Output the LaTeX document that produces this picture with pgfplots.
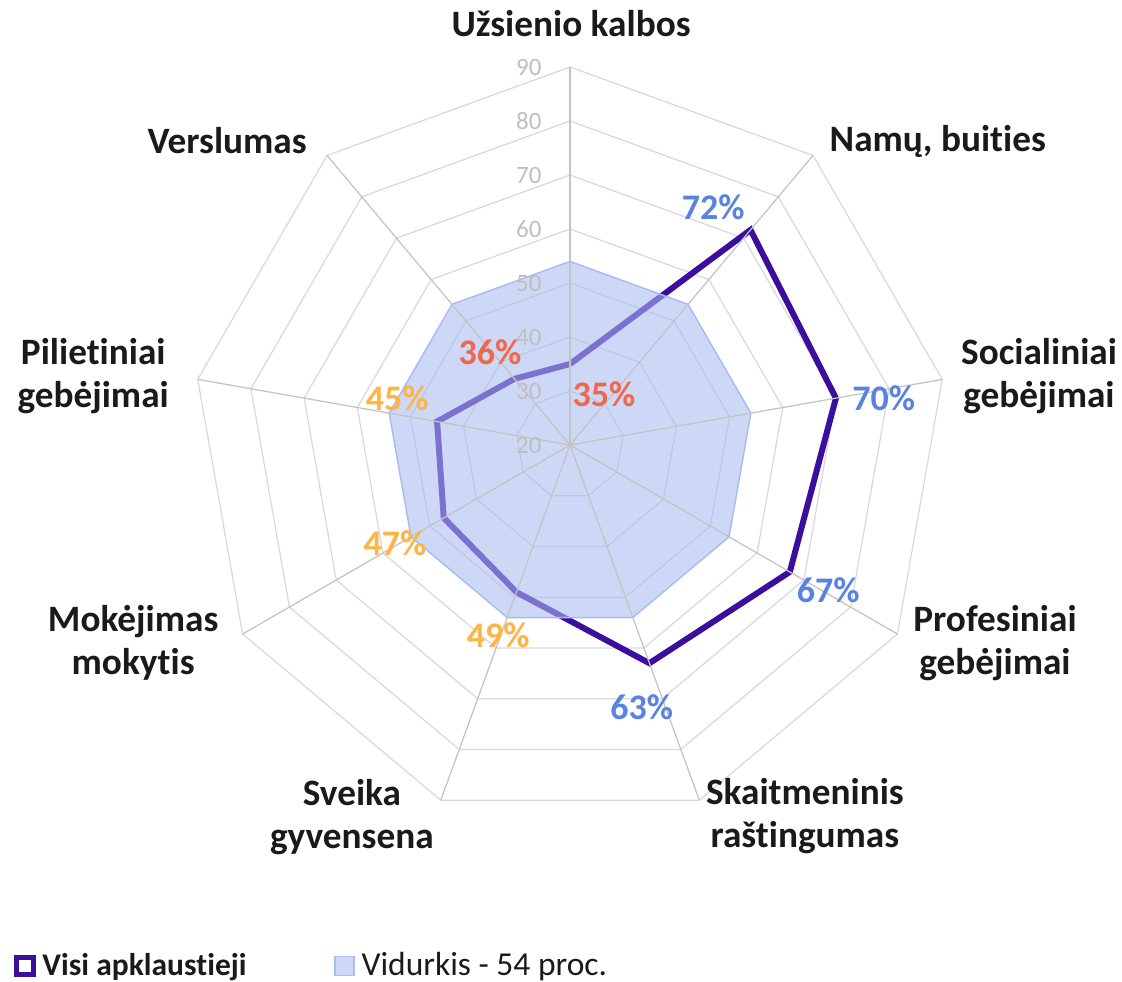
\documentclass[border=0pt]{standalone}
\usepackage{pgfplots}
\pgfplotsset{compat=1.18}
\usepackage{pgfplotstable}
\usepackage{fontspec}
\setmainfont{Carlito}[Ligatures={NoCommon}]
\definecolor{linepurple}{RGB}{59,14,158}
\definecolor{areablue}{RGB}{169,188,241}
\definecolor{lblblue}{RGB}{88,131,224}
\definecolor{lblred}{RGB}{240,103,74}
\definecolor{lblorange}{RGB}{255,180,70}
\definecolor{ringgray}{RGB}{217,217,217}
\definecolor{spokegray}{RGB}{195,195,195}
\definecolor{tickgray}{RGB}{191,191,191}
\definecolor{txt}{RGB}{26,26,26}

\pgfplotstableread{
a v
0 35
40 72
80 70
120 67
160 63
200 49
240 47
280 45
320 36
360 35
}\visi
\pgfplotstableread{
a v
0 54
40 54
80 54
120 54
160 54
200 54
240 54
280 54
320 54
360 54
}\avg

\begin{document}
\begin{tikzpicture}
\begin{axis}[
  x=2.16pt, y=2.16pt,
  xmin=-105.56, xmax=102.22, ymin=-99.26, ymax=82.41,
  hide axis, clip=false,
  legend columns=2,
  legend style={at={(axis cs:-103.06,-96.5)}, anchor=west, draw=none, fill=none,
    inner sep=0pt, outer sep=0pt, nodes={inner sep=0pt},
    text=txt,
    /tikz/every odd column/.append style={column sep=2.8pt},
    /tikz/every even column/.append style={column sep=35pt}},
]
% rings
\pgfplotsinvokeforeach{30,40,...,90}{
  \addplot[ringgray, line width=0.5pt, forget plot]
    table[x expr={(#1-20)*sin(\thisrow{a})}, y expr={(#1-20)*cos(\thisrow{a})}]{\avg};
}
% main line
\addplot[linepurple, line width=2.4pt, line join=miter,
  legend image code/.code={\draw[linepurple, line width=2pt] (1pt,-3.4pt) rectangle (7.8pt,3.4pt);}]
  table[x expr={(\thisrow{v}-20)*sin(\thisrow{a})}, y expr={(\thisrow{v}-20)*cos(\thisrow{a})}]{\visi};
\addlegendentry{\fontsize{12.6}{15}\selectfont\bfseries Visi apklaustieji}
% average area
\addplot[draw=areablue, line width=0.6pt, fill=areablue, fill opacity=0.58,
  legend image code/.code={\draw[draw=areablue, fill=areablue, fill opacity=0.58, line width=0.6pt] (0pt,-3.8pt) rectangle (7.6pt,3.8pt);}]
  table[x expr={(\thisrow{v}-20)*sin(\thisrow{a})}, y expr={(\thisrow{v}-20)*cos(\thisrow{a})}]{\avg};
\addlegendentry{\fontsize{13.4}{15}\selectfont Vidurkis - 54 proc.}
% spokes
\pgfplotsinvokeforeach{0,40,...,320}{
  \draw[spokegray, line width=0.5pt] (axis cs:0,0) -- (axis cs:{70*sin(#1)},{70*cos(#1)});
}
% tick labels
\pgfplotsinvokeforeach{20,30,...,90}{
  \node[anchor=east, text=tickgray, font=\fontsize{10}{12}\selectfont, inner sep=0pt] at (axis cs:-5.2,{#1-20}) {#1};
}
% data labels
\begin{scope}[every node/.style={font=\fontsize{14.4}{17}\selectfont\bfseries, inner sep=0pt}]
\node[text=lblblue] at (axis cs:26.5,44.1) {72\%};
\node[text=lblblue] at (axis cs:58.1,8.7) {70\%};
\node[text=lblblue] at (axis cs:47.8,-26.9) {67\%};
\node[text=lblblue] at (axis cs:13.3,-48.5) {63\%};
\node[text=lblorange] at (axis cs:-13.3,-35.2) {49\%};
\node[text=lblorange] at (axis cs:-32.4,-18.1) {47\%};
\node[text=lblorange] at (axis cs:-32.0,8.7) {45\%};
\node[text=lblred] at (axis cs:-14.8,17.2) {36\%};
\node[text=lblred] at (axis cs:6.3,9.4) {35\%};
\end{scope}
% category labels
\begin{scope}[every node/.style={font=\fontsize{14.9}{17.2}\selectfont\bfseries, text=txt, align=center, inner sep=0pt}]
\node at (axis cs:0.19,77.96) {Užsienio kalbos};
\node at (axis cs:68.1,56.3) {Namų, buities};
\node at (axis cs:86.85,12.78) {Socialiniai\\gebėjimai};
\node at (axis cs:78.7,-36.7) {Profesiniai\\gebėjimai};
\node at (axis cs:43.5,-68.7) {Skaitmeninis\\raštingumas};
\node at (axis cs:-40.4,-68.9) {Sveika\\gyvensena};
\node at (axis cs:-80.9,-36.7) {Mokėjimas\\mokytis};
\node at (axis cs:-88.3,12.8) {Pilietiniai\\gebėjimai};
\node at (axis cs:-63.5,56.3) {Verslumas};
\end{scope}
\path (rel axis cs:0,0) rectangle (rel axis cs:1,1);
\end{axis}
\end{tikzpicture}
\end{document}
